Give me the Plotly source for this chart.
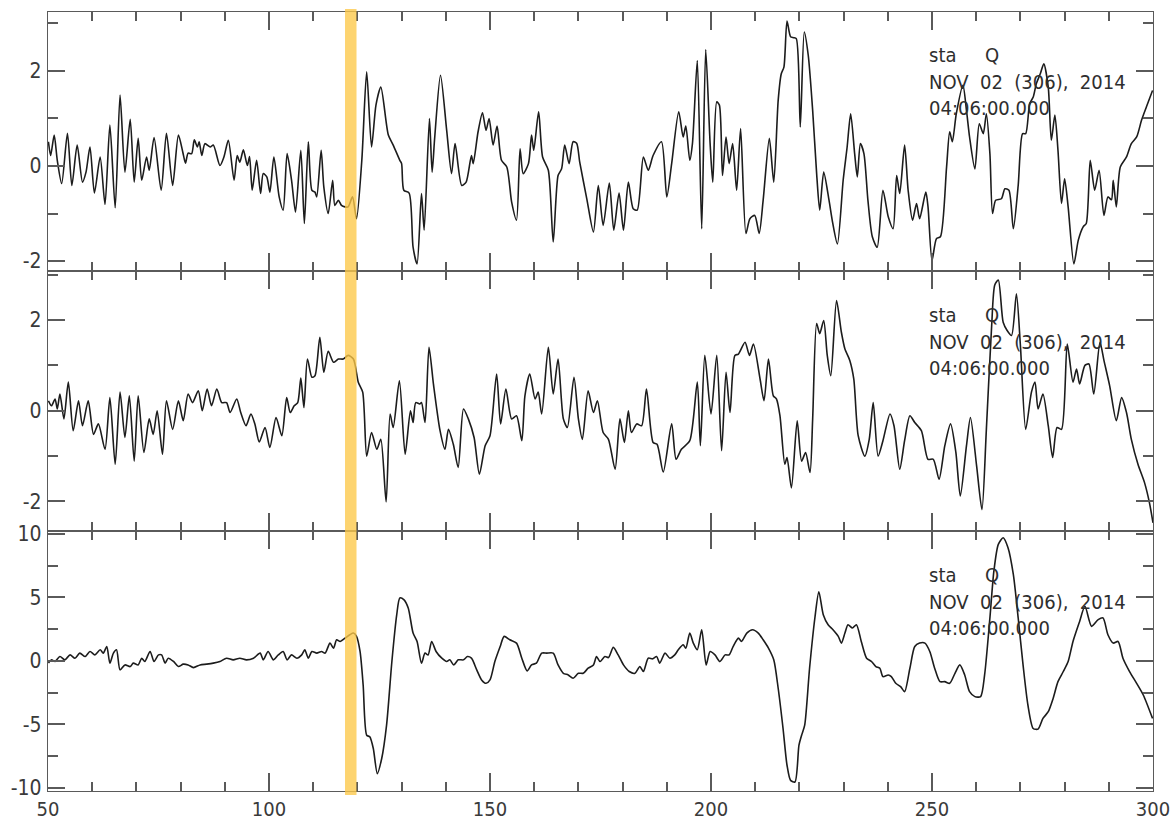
import plotly.graph_objects as go

# ---------------- data ----------------
time_1 = [50.1, 50.6, 51.4, 52.1, 53.1, 54.4, 55.4, 56.6, 57.8, 58.6, 59.5, 60.5, 61.8, 62.9, 64.0, 65.2,
          66.3, 67.4, 68.6, 69.5, 70.4, 71.2, 72.3, 72.9, 74.0, 75.6, 76.8, 78.2, 79.5, 80.5, 81.1, 81.7,
          82.5, 83.1, 83.8, 84.2, 84.8, 85.5, 86.7, 87.4, 88.9, 89.8, 90.8, 92.1, 92.8, 93.4, 94.2, 95.1,
          95.6, 96.2, 97.2, 98.1, 98.7, 99.5, 100.2, 101.1, 102.3, 103.2, 104.1, 105.1, 106.0, 107.2,
          108.0, 108.9, 109.7, 110.4, 110.8, 111.8, 112.4, 113.4, 114.4, 114.9, 115.7, 116.4, 117.2,
          117.9, 118.9, 119.8, 121.0, 122.1, 123.2, 124.2, 125.3, 127.0, 128.1, 129.6,
          130.0, 130.5, 131.7, 132.6, 133.5, 134.5, 135.1, 136.3, 136.9, 137.5, 138.8, 140.2, 141.3,
          142.1, 143.6, 144.6, 145.8, 146.2, 147.3, 148.3, 149.1, 149.8, 150.7, 151.6, 152.6, 153.8,
          154.9, 156.0, 156.8, 157.5, 158.7, 159.4, 159.9, 161.0, 161.9, 163.2, 164.3, 165.4, 166.2,
          166.9, 167.9, 168.8, 169.6, 170.3, 171.9, 173.4, 174.5, 175.6, 177.0, 178.0, 179.2, 180.2,
          181.3, 182.4, 183.3, 184.7, 185.8, 186.9, 188.8, 190.0, 191.1, 192.7, 193.7, 194.3, 195.2,
          195.8, 196.9, 197.9, 198.8, 199.8, 200.4, 201.3, 201.9, 202.6, 203.4, 204.1, 204.9, 205.8,
          206.7, 207.9, 208.8, 209.9, 210.9, 211.8, 213.2, 214.2,
          215.2, 215.9, 216.5, 217.2, 218.0, 218.7, 219.3, 220.2, 221.1, 222.0, 223.0, 223.9, 224.6,
          225.5, 226.7, 227.5, 228.6, 229.9, 230.8, 231.6, 232.5, 233.1, 233.8, 234.6, 235.5, 236.5,
          237.6, 238.9, 240.1, 241.2, 242.0, 242.7, 243.8, 244.6, 245.6, 246.5, 247.2, 248.6, 249.1,
          250.0, 251.0, 251.9, 253.3, 254.0, 254.6, 255.5, 257.0, 257.8, 258.5, 259.7, 260.7, 261.6,
          262.3, 263.1, 263.7, 264.4, 265.7, 266.5, 267.4, 268.4, 269.5, 270.5, 271.2, 272.1, 272.9,
          273.6, 274.5, 275.3, 276.3, 277.0, 277.8, 278.5, 279.3, 280.0, 280.8, 282.1, 283.1, 284.2,
          284.9, 285.8, 286.8, 287.8, 288.9, 289.8, 290.6, 291.0, 291.7, 292.6, 294.0, 295.1, 296.3,
          297.4, 298.5, 299.9]
trace_1 = [0.51, 0.22, 0.65, 0.12, -0.37, 0.69, -0.41, 0.44, -0.34, -0.13, 0.40, -0.57, 0.19, -0.81, 0.86, -0.88,
           1.49, -0.13, 0.98, -0.34, 0.58, -0.30, 0.19, -0.09, 0.60, -0.51, 0.69, -0.41, 0.65, 0.29, 0.06, 0.27,
           0.26, 0.55, 0.40, 0.51, 0.22, 0.47, 0.40, 0.44, 0.01, 0.19, 0.54, -0.30, 0.22, 0.08, 0.34, 0.01,
           0.20, -0.51, 0.12, -0.58, -0.16, -0.23, -0.55, 0.19, -0.65, -0.93, 0.26, -0.30, -0.97, 0.33,
           -1.21, 0.51, -0.51, -0.55, -0.65, 0.33, -0.44, -1.00, -0.30, -0.83, -0.72, -0.83, -0.86,
           -0.86, -0.65, -1.11, 0.12, 1.98, 0.40, 1.28, 1.66, 0.65, 0.44, 0.12,
           0.05, -0.51, -0.57, -1.71, -2.06, -0.58, -1.35, 1.00, -0.13, 0.61, 1.91, 0.75, -0.16,
           0.47, -0.41, -0.34, 0.22, 0.05, 0.72, 1.12, 0.75, 1.00, 0.44, 0.84, 0.12, -0.02,
           -0.76, -1.14, 0.36, -0.16, 0.05, 0.65, 0.33, 1.14, 0.19, -0.09, -1.60, -0.20, -0.06,
           0.44, 0.05, 0.51, 0.48, 0.08, -0.69, -1.39, -0.41, -1.25, -0.36, -1.35, -0.57, -1.35,
           -0.34, -0.90, -0.93, 0.19, -0.09, 0.22, 0.51, -0.65, 0.05, 1.14, 0.61, 0.84, 0.12,
           0.47, 2.22, -1.32, 2.45, 0.47, -0.34, 1.35, 1.28, -0.20, 0.61, 0.05, 0.47, -0.51,
           0.79, -1.42, -1.11, -1.04, -1.42, -0.72, 0.58, -0.34,
           1.38, 1.94, 2.08, 3.05, 2.72, 2.70, 2.68, 0.82, 2.82, 2.33, 1.17, -0.16, -0.93,
           -0.13, -0.72, -1.18, -1.64, -0.30, 0.40, 1.10, 0.26, -0.23, 0.47, 0.26, -0.72, -1.49,
           -1.71, -0.51, -1.07, -1.32, -0.20, -0.58, 0.44, -0.51, -1.14, -0.79, -1.11, -0.55, -0.86,
           -1.99, -1.53, -1.49, -0.02, 0.72, 0.51, 1.10, 1.70, 1.17, 0.61, -0.06, 0.89, 0.68,
           1.10, 0.26, -1.00, -0.72, -0.69, -0.48, -0.51, -1.32, -0.41, 0.68, 0.68, 1.31, 1.45,
           1.73, 1.94, 2.15, 1.66, 0.54, 1.07, 0.33, -0.79, -0.27, -0.86, -2.06, -1.56, -1.28,
           -1.21, 0.12, -0.51, -0.09, -1.04, -0.65, -0.71, -0.30, -0.86, -0.02, 0.19, 0.47, 0.61,
           0.96, 1.24, 1.59]

time_2 = [50.1, 50.8, 51.6, 52.1, 52.7, 53.6, 54.6, 55.7, 56.9, 57.8, 59.1, 60.3, 61.4, 62.9, 64.0, 65.2,
          66.3, 67.4, 68.4, 69.5, 70.4, 71.7, 72.9, 73.8, 74.7, 75.9, 76.8, 78.2, 79.5, 80.6, 81.7, 82.7,
          84.0, 84.9, 86.0, 87.0, 88.2, 89.3, 90.4, 91.2, 92.7, 93.6, 94.8, 95.9, 96.8, 97.8, 99.1, 100.2,
          101.6, 102.9, 104.0, 104.8, 105.7, 106.5, 107.2, 107.9, 108.7, 109.7, 110.4, 111.5, 112.4,
          113.4, 114.6, 115.7, 116.8, 117.9, 119.1, 120.2, 121.2, 122.1, 123.2, 124.4, 125.3, 126.5,
          127.4, 128.1, 129.5, 130.8, 132.0, 132.6, 133.2, 134.1, 134.5, 135.3, 136.2, 137.2, 138.7,
          139.8, 140.6, 141.7, 142.8, 144.0, 145.1, 146.4, 147.6, 148.9, 150.0, 151.5, 152.4, 153.6,
          154.9, 156.0, 157.2, 157.9, 159.0, 160.2, 160.9, 161.7, 163.2, 164.3, 165.4, 166.6, 167.5,
          169.0, 170.0, 170.9, 172.2, 173.4, 174.3, 175.6, 176.8, 178.3, 179.4, 180.4, 181.3, 182.0,
          183.2, 184.3, 185.4, 186.9, 187.8, 189.2, 191.1, 192.1, 193.3, 195.2, 196.9, 197.6, 198.6,
          200.0, 201.3, 202.4, 203.4, 204.3, 205.4, 206.2, 207.7, 208.7, 209.6, 211.1, 212.0, 213.0,
          214.1, 214.8, 215.6, 216.7, 217.2, 218.2, 219.5, 220.5, 221.4, 222.4, 223.0, 223.9, 224.6,
          225.5, 226.3, 227.1, 228.4, 229.5, 230.3, 231.4, 232.3, 233.3, 234.8, 235.8, 236.7, 237.8,
          238.9, 240.5, 241.4, 242.7, 243.8, 245.0, 246.1, 247.6, 249.1, 250.3, 251.6, 252.9, 254.2,
          255.4, 256.4, 257.8, 258.7, 260.1, 261.3, 262.3, 263.5, 264.2, 265.0, 266.1, 267.0, 268.0,
          269.1, 270.0, 271.2, 272.5, 273.3, 274.0, 275.1, 276.3, 277.3, 278.3, 279.3, 280.6, 281.9,
          282.7, 283.4, 284.6, 285.5, 286.6, 288.0, 288.9, 290.2, 291.7, 292.9, 294.0, 295.1, 296.6,
          298.1, 299.2, 300.0]
trace_2 = [0.22, 0.11, 0.26, 0.04, 0.37, -0.18, 0.63, -0.44, 0.22, -0.33, 0.22, -0.52, -0.29, -0.85, 0.29, -1.18,
           0.41, -0.59, 0.33, -1.11, 0.33, -0.92, -0.18, -0.52, 0.00, -0.96, 0.22, -0.41, 0.22, -0.22, 0.37, 0.18,
           0.44, 0.00, 0.48, 0.11, 0.48, 0.18, 0.18, -0.04, 0.26, -0.04, -0.33, -0.07, -0.29, -0.69, -0.37, -0.81,
           -0.15, -0.55, 0.29, -0.04, 0.11, 0.18, 0.72, 0.07, 1.14, 0.74, 0.77, 1.62, 0.85,
           1.31, 1.07, 1.14, 1.14, 1.22, 1.14, 0.63, 0.41, -1.00, -0.48, -0.85, -0.63, -2.01,
           -0.07, -0.37, 0.66, -0.96, 0.00, -0.26, 0.18, 0.15, 0.18, -0.26, 1.40, 0.59, -0.44,
           -0.85, -0.41, -0.74, -1.25, 0.04, -0.18, -0.59, -1.40, -0.77, -0.55, 0.81, -0.29, 0.48,
           -0.18, -0.11, -0.66, 0.33, 0.81, 0.26, 0.41, -0.07, 1.40, 0.37, 1.14, -0.18, -0.37,
           0.74, -0.18, -0.63, 0.44, -0.04, 0.22, -0.48, -0.63, -1.29, -0.18, -0.70, 0.00, -0.48,
           -0.29, -0.33, 0.48, -0.70, -0.74, -1.35, -0.29, -1.07, -0.85, -0.66, 0.63, -0.77, 1.22,
           -0.07, 1.22, -0.88, 0.85, -0.04, 1.22, 1.25, 1.51, 1.22, 1.47, 0.70, 0.22, 1.14,
           0.33, 0.26, -0.11, -1.18, -1.03, -1.70, -0.22, -1.11, -0.92, -1.36, -0.18, 1.92, 1.70,
           1.99, 1.22, 0.77, 2.43, 1.73, 1.36, 1.11, 0.70, -0.55, -1.00, -0.63, 0.18, -1.00,
           -0.66, -0.07, -0.33, -1.29, -0.66, -0.11, -0.26, -0.44, -1.07, -1.07, -1.51, -0.77, -0.29,
           -0.92, -1.88, -0.77, -0.15, -1.22, -2.18, -0.41, 1.88, 2.77, 2.88, 1.95, 1.77, 1.66,
           2.58, 1.44, -0.41, 0.41, 0.63, 0.04, 0.37, -0.33, -1.03, -0.37, -0.41, 1.47, 0.63,
           0.92, 0.59, 1.00, 1.03, 0.37, 1.51, 1.11, 0.55, -0.22, 0.29, -0.04, -0.63, -1.18,
           -1.59, -2.03, -2.47]

time_3 = [50.1, 50.8, 51.6, 52.7, 53.8, 55.0, 56.1, 57.2, 58.4, 59.5, 60.6, 61.8, 62.5, 63.3, 64.0, 64.8,
          65.5, 66.3, 67.4, 68.6, 69.3, 70.4, 71.2, 71.9, 73.1, 74.0, 75.0, 75.7, 76.5, 77.2, 78.4, 79.5,
          80.6, 81.7, 82.9, 84.4, 85.9, 87.4, 88.9, 90.4, 91.9, 93.4, 94.9, 96.5, 98.0, 98.7, 99.8, 101.0,
          102.1, 103.2, 104.1, 105.1, 106.3, 107.4, 108.1, 108.9, 109.7, 110.8, 111.9, 112.7, 113.8,
          114.6, 115.3, 116.1, 117.2, 118.3, 119.1, 119.8, 120.6, 121.3, 122.1, 122.8, 123.6, 124.5,
          125.5, 126.6, 127.8, 128.9, 129.6,
          130.5, 131.5, 132.6, 133.5, 134.5, 135.3, 136.0, 136.8, 137.8, 139.1, 140.2, 140.9, 141.8,
          142.8, 144.0, 144.9, 145.8, 147.0, 148.1, 149.1, 150.0, 151.1, 152.3, 153.2, 154.5, 156.0,
          157.2, 158.4, 159.4, 160.5, 161.7, 162.8, 164.3, 165.4, 166.6, 167.7, 168.8, 170.0, 171.1,
          172.2, 173.4, 174.1, 174.9, 176.0, 176.8, 177.9, 179.0, 180.2, 181.5, 182.8, 183.9, 184.7,
          185.8, 186.8, 187.7, 188.4, 189.6, 190.7, 191.8, 192.6, 193.7, 194.3, 195.2, 196.0, 196.9,
          197.9, 198.9, 199.8, 200.9, 202.0, 203.2, 204.1, 205.0, 206.2, 206.9, 208.1, 209.4, 210.7,
          211.8, 213.0,
          214.2, 215.2, 216.3, 217.2, 218.0, 219.0, 219.9, 220.5, 221.2, 222.3, 223.5, 224.4, 225.4,
          226.5, 227.6, 228.8, 229.5, 230.3, 231.0, 232.0, 232.9, 234.0, 235.2, 236.3, 237.3, 238.2,
          238.9, 240.1, 240.8, 241.8, 242.9, 243.8, 245.0, 246.1, 247.2, 248.4, 249.5, 250.6, 251.8,
          252.9, 254.0, 255.2, 256.3, 257.4, 258.5, 259.7, 261.0, 261.9, 263.1, 264.0, 265.0, 266.1,
          267.2, 268.4, 269.5, 270.6, 271.7, 272.9, 274.0, 275.1, 276.3, 277.4, 278.5, 279.7, 280.8,
          281.9, 283.4, 284.6, 286.1, 287.6, 288.7, 289.8, 291.0, 292.1, 293.2, 294.7, 296.3, 297.8,
          299.9]
trace_3 = [-0.18, 0.08, -0.05, 0.34, 0.08, 0.47, 0.21, 0.61, 0.34, 0.74, 0.47, 0.87, 0.61, 1.13, -0.18, 0.61,
           0.87, -0.71, -0.32, -0.45, -0.18, -0.32, 0.21, -0.05, 0.74, -0.05, 0.47, 0.47, -0.18, 0.21, -0.05, -0.45,
           -0.26, -0.32, -0.53, -0.32, -0.26, -0.18, -0.05, 0.21, 0.08, 0.21, 0.08, 0.21, 0.61, 0.08, 0.74, 0.08,
           0.47, 0.74, 0.08, 0.47, 0.21, 0.47, 0.87, 0.21, 0.74, 0.61, 0.74, 0.61, 1.40,
           1.00, 1.66, 1.53, 1.79, 2.06, 2.19, 1.93, 0.74, -1.90, -5.86, -5.99, -6.91, -8.89,
           -7.70, -5.07, -0.05, 3.64, 4.96,
           4.83, 4.17, 2.19, 1.53, -0.18, 0.61, 0.47, 1.53, 0.74, 0.21, -0.05, 0.08, -0.32,
           0.08, 0.08, 0.34, 0.21, -0.71, -1.50, -1.77, -1.50, -0.05, 1.13, 1.93, 1.66, 1.40,
           0.21, -0.79, -0.32, -0.18, 0.61, 0.61, 0.61, -0.32, -0.98, -1.11, -1.37, -0.98, -0.98,
           -0.58, -0.32, 0.34, -0.05, 0.34, 0.26, 1.06, 0.47, -0.32, -0.84, -0.98, -0.45, -0.84,
           0.21, 0.16, 0.34, -0.18, 0.61, 0.21, 0.47, 0.87, 1.27, 1.00, 2.19, 1.40, 0.87,
           2.45, -0.32, 0.74, 0.47, -0.05, 0.47, 0.47, 1.13, 1.79, 1.53, 2.19, 2.45, 2.19,
           1.66, 1.00,
           0.08, -2.16, -5.33, -8.23, -9.42, -9.55, -6.65, -5.86, -5.07, -0.58, 3.38, 5.44, 3.64,
           2.85, 2.45, 1.93, 1.40, 2.19, 2.85, 2.59, 2.85, 1.53, 0.21, -0.05, -0.45, -0.58,
           -1.24, -1.11, -1.24, -1.77, -2.03, -2.43, -0.58, 1.13, 1.40, 1.40, 0.74, -0.58, -1.64,
           -1.64, -1.77, -0.98, -0.32, -1.11, -2.43, -2.82, -2.82, -1.11, 3.38, 7.07, 9.18, 9.71,
           8.92, 6.81, 3.38, -0.32, -3.48, -5.33, -5.38, -4.54, -4.01, -2.96, -1.64, -0.84, -0.05,
           1.53, 3.11, 4.30, 2.72, 3.25, 3.38, 2.06, 1.40, 1.53, 0.21, -0.84, -1.77, -2.69,
           -4.54]

x_ticks = [50, 100, 150, 200, 250, 300]
x_tick_labels = ["50", "100", "150", "200", "250", "300"]
x_minor_ticks = [60, 70, 80, 90, 110, 120, 130, 140, 160, 170, 180, 190, 210, 220, 230, 240, 260, 270, 280, 290]

y12_ticks = [-2, 0, 2]
y12_tick_labels = ["-2", "0", "2"]
y12_minor_ticks = [-1, 1, 3]
y3_ticks = [-10, -5, 0, 5, 10]
y3_tick_labels = ["-10", "-5", "0", "5", "10"]
y3_minor_ticks = [-7.5, -2.5, 2.5, 7.5]

x_range = [50, 300]
y_ranges = [[-2.21, 3.24], [-2.65, 3.08], [-10.26, 10.24]]
panel_domains = [[0.6675, 1.0], [0.3338, 0.6675], [0.0, 0.3338]]
highlight_window = [117.2, 119.8]
label_lines = ["sta\u00a0\u00a0\u00a0\u00a0\u00a0Q",
               "NOV\u00a0\u00a002\u00a0\u00a0(306),\u00a0\u00a02014",
               "04:06:00.000"]
label_x = 248.9

# ---------------- figure ----------------
fig = go.Figure()

line_style = dict(color="#1c1c1c", width=1.6, shape="spline", smoothing=0.7)
series = [(time_1, trace_1), (time_2, trace_2), (time_3, trace_3)]
for i, (tx, ty) in enumerate(series):
    sfx = "" if i == 0 else str(i + 1)
    fig.add_trace(go.Scatter(x=tx, y=ty, mode="lines", line=line_style,
                             xaxis="x" + sfx, yaxis="y" + sfx,
                             showlegend=False, hoverinfo="skip"))

axis_color = "#5a5a5a"
font_family = "Liberation Sans Narrow, DejaVu Sans Condensed, Arial Narrow, sans-serif"
y_tick_font = dict(family=font_family, size=21, color="#3a3a3a")
x_tick_font = dict(family=font_family, size=20, color="#3a3a3a")

layout_axes = {}
for i in range(3):
    sfx = "" if i == 0 else str(i + 1)
    last = (i == 2)
    layout_axes["xaxis" + sfx] = dict(
        domain=[0, 1], anchor="y" + sfx, range=x_range,
        showgrid=False, zeroline=False, automargin=False,
        showline=True, linecolor=axis_color, linewidth=1.3, mirror="ticks",
        ticks="inside", ticklen=18, tickwidth=1.5, tickcolor=axis_color,
        tickmode="array", tickvals=x_ticks, ticktext=x_tick_labels,
        tickfont=x_tick_font, showticklabels=last,
        minor=dict(ticks="inside", ticklen=9, tickwidth=1.5, tickcolor=axis_color,
                   tickmode="array", tickvals=x_minor_ticks, showgrid=False))
    if last:
        yt, ytl, ym = y3_ticks, y3_tick_labels, y3_minor_ticks
    else:
        yt, ytl, ym = y12_ticks, y12_tick_labels, y12_minor_ticks
    layout_axes["yaxis" + sfx] = dict(
        domain=panel_domains[i], anchor="x" + sfx, range=y_ranges[i],
        showgrid=False, zeroline=False, automargin=False,
        showline=True, linecolor=axis_color, linewidth=1.3, mirror="ticks",
        ticks="inside", ticklen=17, tickwidth=1.5, tickcolor=axis_color,
        tickmode="array", tickvals=yt, ticktext=ytl, tickfont=y_tick_font,
        ticklabelstandoff=1,
        minor=dict(ticks="inside", ticklen=10, tickwidth=1.5, tickcolor=axis_color,
                   tickmode="array", tickvals=ym, showgrid=False))
fig.update_layout(**layout_axes)

# highlighted window
fig.add_shape(type="rect", xref="x3", yref="paper",
              x0=highlight_window[0], x1=highlight_window[1], y0=-0.005, y1=1.004,
              fillcolor="rgba(252,200,72,0.78)", line=dict(width=0), layer="above")

ann_font = dict(family="DejaVu Sans Condensed, DejaVu Sans, sans-serif", size=20, color="#2e2e2e")
line_pos = [0.8325, 0.7285, 0.628]
for yref in ("y domain", "y2 domain", "y3 domain"):
    for txt, yp in zip(label_lines, line_pos):
        fig.add_annotation(xref="x3", yref=yref, x=label_x, y=yp, text=txt,
                           showarrow=False, xanchor="left", yanchor="middle", font=ann_font)

fig.update_layout(width=1172, height=818, autosize=False,
                  margin=dict(l=48, r=19, t=12, b=27),
                  paper_bgcolor="white", plot_bgcolor="white")

fig.write_html("out.html", config={"displayModeBar": False},
               post_script="document.body.style.margin='0';document.body.style.padding='0';")
